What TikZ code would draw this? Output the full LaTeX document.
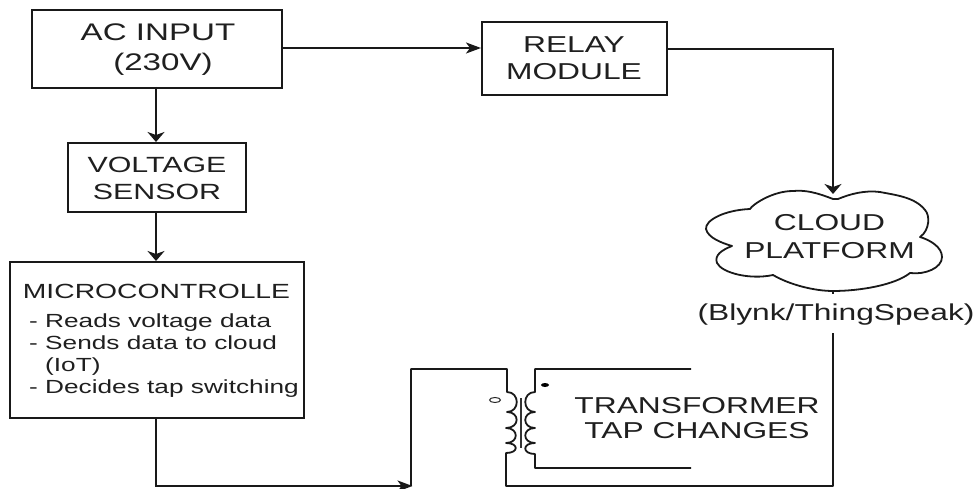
\documentclass[tikz,border=0pt]{standalone}
\usepackage{fontspec}
\setmainfont[FakeStretch=1.38]{Liberation Sans}
\usetikzlibrary{arrows.meta,positioning}
\tikzset{
  box/.style={draw=black!90,line width=2.1pt,inner sep=0pt,anchor=north west},
  lbl/.style={font=\fontsize{23}{28}\selectfont,align=center,inner sep=0pt,text=black!88},
  wire/.style={line width=1.8pt,draw=black!90},
  arrh/.style={wire,-{Stealth[length=15pt,width=11pt,inset=4pt]}},
  arrv/.style={wire,-{Stealth[length=10pt,width=17pt,inset=3pt]}},
  small/.style={font=\fontsize{19}{22}\selectfont,align=left,inner sep=0pt,anchor=north west,text=black!88}
}
\begin{document}
\begin{tikzpicture}[x=1pt,y=-1pt]
\useasboundingbox (0,0) rectangle (979,489);
\node[box,minimum width=250pt,minimum height=78pt] (ac) at (31,9) {};
\node[lbl,font=\fontsize{24}{30}\selectfont] (act) at (158,50) {AC INPUT\\\hspace*{10pt}(230V)};
\node[box,minimum width=185pt,minimum height=73pt] (relay) at (481,21) {};
\node[lbl,font=\fontsize{23}{27}\selectfont] (relayt) at (574,58.5) {RELAY\\MODULE};
\node[box,minimum width=178pt,minimum height=69pt] (vs) at (67,142) {};
\node[lbl,font=\fontsize{22}{27}\selectfont] (vst) at (157,178.5) {VOLTAGE\\SENSOR};
\node[box,minimum width=294pt,minimum height=156pt] (mcu) at (9,261) {};
\node[font=\fontsize{20.5}{24}\selectfont,inner sep=0pt,text=black!88] (mcut) at (156.5,291) {MICROCONTROLLE};
\node[small] (mcub) at (29,313.5) {- Reads voltage data\\- Sends data to cloud\\\phantom{- }(IoT)\\- Decides tap switching};
\draw[wire,line join=round] (833,199)
  .. controls (815,192) and (805,190) .. (793,191)
  .. controls (772,191) and (752,205) .. (750,209)
  .. controls (725,210) and (705,220) .. (706,229)
  .. controls (708,238) and (722,243) .. (732,246)
  .. controls (722,250) and (714,255) .. (717,263)
  .. controls (722,273) and (750,280) .. (773,275)
  .. controls (790,285) and (815,291) .. (833,291)
  .. controls (860,291) and (895,285) .. (910,273)
  .. controls (925,275) and (942,268) .. (942,257)
  .. controls (942,247) and (930,240) .. (920,237)
  .. controls (930,230) and (930,215) .. (925,210)
  .. controls (915,197) and (895,195) .. (880,192)
  .. controls (865,190) and (850,194) .. (838,199) -- cycle;
\coordinate (cloudtop) at (833,194);
\coordinate (cloudbot) at (833,291);
\node[lbl] (cloudt) at (829.5,237) {CLOUD\\PLATFORM};
\node[font=\fontsize{23}{28}\selectfont,inner sep=0pt,text=black!88] (blynk) at (836,314.5) {(Blynk/ThingSpeak)};
\coordinate (stub) at (833,294);
\draw[wire] (cloudbot) -- (stub);
\node[lbl,font=\fontsize{23}{25}\selectfont] (tt) at (697,418.5) {TRANSFORMER\\TAP CHANGES};
\coordinate (acout) at (281,48);
\coordinate (relayin) at (481,48);
\draw[arrh] (acout) -- (relayin);
\coordinate (relayout) at (666,49);
\draw[arrv] (relayout) -| (cloudtop);
\coordinate (acb) at (156,87);
\coordinate (vstop) at (156,142);
\draw[arrv] (acb) -- (vstop);
\coordinate (vsb) at (156,211);
\coordinate (mcuta) at (156,261);
\draw[arrv] (vsb) -- (mcuta);
\coordinate (mcubo) at (156,417);
\coordinate (bl) at (156,486);
\coordinate (tin) at (412.5,486);
\draw[arrh] (mcubo) -- (bl) -- (tin);
% primary
\draw[wire,line join=round] (411,486) -- (411,369) -- (507,369) -- (507,392)
  .. controls (520,392) and (520,412) .. (507,412)
  .. controls (520,412) and (520,428) .. (506,428)
  .. controls (519,428) and (519,443) .. (506,443)
  .. controls (519,443) and (519,453) .. (506,453)
  -- (506,486) -- (833,486) -- (833,333);
% secondary
\draw[wire,line join=round] (691,369) -- (535,369) -- (535,392)
  .. controls (522,392) and (522,412) .. (535,412)
  .. controls (522,412) and (522,428) .. (535,428)
  .. controls (522,428) and (522,443) .. (535,443)
  .. controls (522,443) and (522,454) .. (535,454)
  -- (535,468) -- (691,468);
\draw[line width=1.1pt,black!80] (521,398) -- (521,448);
\fill[black] (545,385) ellipse (4pt and 2pt);
\draw[line width=1pt,black!85] (495,400) ellipse (5.5pt and 2.5pt);
\end{tikzpicture}
\end{document}
